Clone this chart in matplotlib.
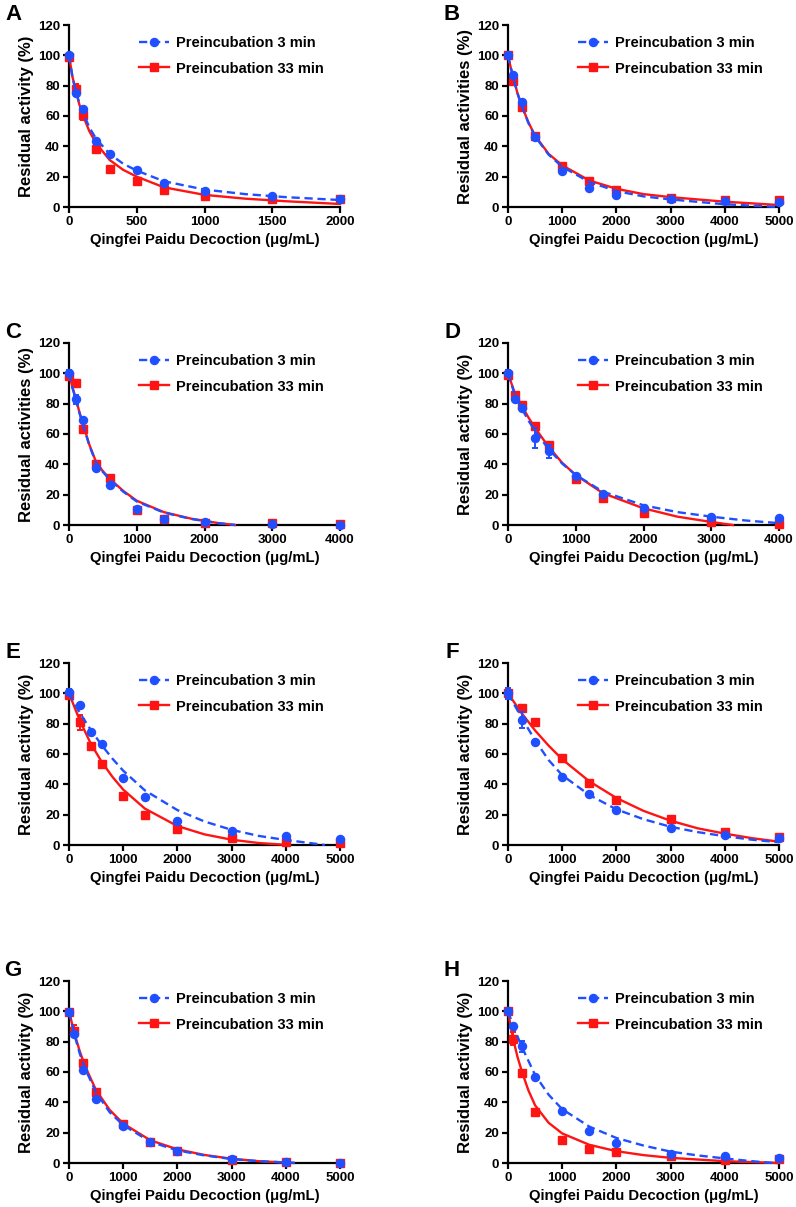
import matplotlib
matplotlib.use("Agg")
import matplotlib.pyplot as plt
from matplotlib.lines import Line2D

plt.rcParams['font.family'] = ['Liberation Sans', 'DejaVu Sans']
plt.rcParams['font.weight'] = 'bold'

BLUE = '#1f4fff'
RED = '#ff1414'

# ---- Panel A ----
A_conc = [0, 50, 100, 200, 300, 500, 700, 1000, 1500, 2000]
A_3min = [100, 75, 64.5, 43.5, 35, 24.5, 16, 10.5, 7.5, 5.5]
A_3min_sd = [1.5, 1.5, 1.5, 1, 1, 1, 0.8, 0.8, 0.5, 0.5]
A_33min = [99, 78, 60.5, 38.5, 25, 17, 11, 7.5, 5, 5]
A_33min_sd = [1.5, 3, 3, 2.5, 1, 1, 1, 0.8, 0.5, 0.5]
A_fit_x = [0, 25, 50, 75, 100, 150, 200, 300, 400, 500, 700, 1000, 1300, 1600, 2000]
A_fit_3min = [100, 86, 76, 69, 63, 52.5, 45, 35, 28.5, 24, 17, 11.5, 8.5, 6.5, 4.6]
A_fit_33min = [100, 86, 77, 68, 61, 50, 42, 31, 24.5, 20, 13, 8, 5.5, 3.8, 2.0]

# ---- Panel B ----
B_conc = [0, 100, 250, 500, 1000, 1500, 2000, 3000, 4000, 5000]
B_3min = [100.5, 87, 69.5, 46, 23.5, 12.5, 8, 5, 4, 3]
B_3min_sd = [1, 1, 1, 1, 1, 1, 1, 0.5, 0.5, 0.5]
B_33min = [100.5, 83, 66, 46.5, 27, 17, 11, 6, 4.5, 4.5]
B_33min_sd = [1, 1, 1, 1, 1, 1, 1, 0.5, 0.5, 0.5]
B_fit_x = [0, 50, 100, 175, 250, 375, 500, 750, 1000, 1500, 2000, 2500, 3000, 4000, 5000]
B_fit_3min = [100, 92, 85, 75, 67, 55.5, 46.5, 34.5, 26.5, 16.5, 10.5, 7, 5, 1.8, 0]
B_fit_33min = [100, 92, 85, 75, 67, 56, 47, 35, 27.5, 17.5, 12, 8.5, 6.5, 3.5, 1.3]

# ---- Panel C ----
C_conc = [0, 100, 200, 400, 600, 1000, 1400, 2000, 3000, 4000]
C_3min = [100, 83, 69.5, 37.5, 26.5, 10.5, 3.7, 2.2, 0.4, 0]
C_3min_sd = [2, 3, 1, 1, 1, 1, 0.5, 0.5, 0.3, 0.3]
C_33min = [98.5, 93.5, 63.5, 40, 31, 9.7, 3.7, 1, 1, 0.5]
C_33min_sd = [1, 1, 1, 1, 1, 1, 0.5, 0.5, 0.3, 0.3]
C_fit_x = [0, 50, 100, 150, 200, 300, 400, 500, 600, 800, 1000, 1400, 1800, 2200, 2450]
C_fit_3min = [100, 90.5, 83, 74.5, 67, 52.5, 41, 35, 30, 22, 15.5, 8.2, 4, 1.2, 0]
C_fit_33min = [100, 91, 83.5, 75, 67.5, 53, 41.5, 35.5, 30.5, 22.5, 16, 8.5, 4.2, 1.3, 0]

# ---- Panel D ----
D_conc = [0, 100, 200, 400, 600, 1000, 1400, 2000, 3000, 4000]
D_3min = [100, 83, 77, 57.5, 48.5, 32.5, 20.5, 11, 5, 4.5]
D_3min_sd = [2, 1, 1, 6.5, 4, 1, 1, 1, 0.5, 0.5]
D_33min = [99, 86, 79, 65, 52.5, 30.5, 18, 8, 1.8, 0.5]
D_33min_sd = [2, 1.5, 1, 1.5, 2, 1, 1, 1, 0.5, 0.3]
D_fit_x_3min = [0, 100, 200, 300, 400, 600, 800, 1000, 1400, 2000, 2500, 3000, 3500, 4000]
D_fit_3min = [100, 86, 77, 69, 62, 50, 40.5, 33, 22, 13, 8.5, 5.5, 3, 1.2]
D_fit_x_33min = [0, 100, 200, 300, 400, 600, 800, 1000, 1400, 2000, 2500, 3000, 3320]
D_fit_33min = [100, 87, 79, 71, 64, 51.5, 41, 33, 21, 11, 5.5, 2, 0]

# ---- Panel E ----
E_conc = [0, 200, 400, 600, 1000, 1400, 2000, 3000, 4000, 5000]
E_3min = [101, 92.5, 74.5, 66.5, 44, 31.5, 15.5, 9, 6, 4]
E_3min_sd = [2, 1, 1, 1, 1, 1, 1, 1, 0.5, 0.5]
E_33min = [99, 81, 65.5, 53.5, 32.5, 19.5, 10.5, 4.5, 2, 1]
E_33min_sd = [1.5, 5, 1, 1, 1, 1, 1, 1, 0.5, 0.5]
E_fit_x_3min = [0, 200, 400, 600, 800, 1000, 1400, 2000, 2500, 3000, 3500, 4000, 4400, 4720]
E_fit_3min = [100, 87, 76, 66, 57, 49, 36, 23, 15.5, 10, 6, 3.3, 1.5, 0]
E_fit_x_33min = [0, 200, 400, 600, 800, 1000, 1400, 2000, 2500, 3000, 3500, 4050]
E_fit_33min = [100, 82, 67, 55, 45, 36.5, 24, 12.5, 7, 3.5, 1.3, 0]

# ---- Panel F ----
F_conc = [0, 250, 500, 1000, 1500, 2000, 3000, 4000, 5000]
F_3min = [100, 82.5, 68, 45, 33.5, 23, 11, 6.5, 4.5]
F_3min_sd = [3.5, 5.5, 1, 1, 1, 1, 1, 0.5, 0.5]
F_33min = [100, 90.5, 81, 57.5, 41, 29.5, 17, 8.5, 5.5]
F_33min_sd = [1.5, 1, 1, 1, 1, 1, 2, 0.5, 0.5]
F_fit_x = [0, 250, 500, 750, 1000, 1500, 2000, 2500, 3000, 3500, 4000, 4500, 5000]
F_fit_3min = [100, 84, 69, 56, 46, 33, 23.5, 17, 12, 8.5, 5.8, 3.5, 1.8]
F_fit_33min = [100, 87, 75.5, 65.5, 56.5, 42, 31, 22.5, 16, 11, 7.5, 4.5, 2.2]

# ---- Panel G ----
G_conc = [0, 100, 250, 500, 1000, 1500, 2000, 3000, 4000, 5000]
G_3min = [99.5, 85, 61.5, 42.5, 24.5, 14, 8, 2.5, 0.5, 0.3]
G_3min_sd = [1, 1, 1, 1, 1, 1, 1, 0.5, 0.3, 0.3]
G_33min = [99.5, 87, 66, 46.5, 25.5, 14, 8, 2.2, 0.5, 0]
G_33min_sd = [1, 4, 1, 1, 1, 1, 1, 0.5, 0.3, 0.3]
G_fit_x_3min = [0, 100, 200, 300, 500, 750, 1000, 1500, 2000, 2500, 3000, 3500, 4250]
G_fit_3min = [100, 84.5, 72, 62, 46.5, 33.5, 25, 14, 8.3, 5, 2.6, 1.2, 0]
G_fit_x_33min = [0, 100, 200, 300, 500, 750, 1000, 1500, 2000, 2500, 3000, 3500, 4140]
G_fit_33min = [100, 85.5, 73.5, 63.5, 48, 35, 26, 15, 9, 5.3, 2.8, 1.2, 0]

# ---- Panel H ----
H_conc = [0, 100, 250, 500, 1000, 1500, 2000, 3000, 4000, 5000]
H_3min = [100, 90.5, 77, 57, 34.5, 21, 13, 6.2, 4.5, 3]
H_3min_sd = [1, 1, 3.5, 1, 1, 1, 1, 1, 0.5, 0.5]
H_33min = [100, 82, 59.5, 33.5, 15, 9.5, 7, 4.5, 2, 2.5]
H_33min_sd = [1, 4.5, 1, 1, 1, 1, 1, 0.5, 0.5, 0.5]
H_fit_x_3min = [0, 100, 250, 500, 750, 1000, 1500, 2000, 2500, 3000, 3500, 4000, 4500, 4900]
H_fit_3min = [100, 90, 77, 58, 45, 35.5, 24, 16.5, 11.5, 7.5, 5, 3, 1.2, 0]
H_fit_x_33min = [0, 50, 100, 175, 250, 375, 500, 750, 1000, 1500, 2000, 2500, 3000, 4000, 5000]
H_fit_33min = [100, 90, 81, 70, 61, 48, 38, 26.5, 19.5, 12, 7.8, 5.2, 3.4, 1.2, 0]

x_label = 'Qingfei Paidu Decoction (μg/mL)'
legend_labels = ['Preincubation 3 min', 'Preincubation 33 min']

panels = [
    ('A', 'Residual activity (%)', 2000, 500, A_conc, A_3min, A_3min_sd, A_33min, A_33min_sd,
     A_fit_x, A_fit_3min, A_fit_x, A_fit_33min),
    ('B', 'Residual activities (%)', 5000, 1000, B_conc, B_3min, B_3min_sd, B_33min, B_33min_sd,
     B_fit_x, B_fit_3min, B_fit_x, B_fit_33min),
    ('C', 'Residual activities (%)', 4000, 1000, C_conc, C_3min, C_3min_sd, C_33min, C_33min_sd,
     C_fit_x, C_fit_3min, C_fit_x, C_fit_33min),
    ('D', 'Residual activity (%)', 4000, 1000, D_conc, D_3min, D_3min_sd, D_33min, D_33min_sd,
     D_fit_x_3min, D_fit_3min, D_fit_x_33min, D_fit_33min),
    ('E', 'Residual activity (%)', 5000, 1000, E_conc, E_3min, E_3min_sd, E_33min, E_33min_sd,
     E_fit_x_3min, E_fit_3min, E_fit_x_33min, E_fit_33min),
    ('F', 'Residual activity (%)', 5000, 1000, F_conc, F_3min, F_3min_sd, F_33min, F_33min_sd,
     F_fit_x, F_fit_3min, F_fit_x, F_fit_33min),
    ('G', 'Residual activity (%)', 5000, 1000, G_conc, G_3min, G_3min_sd, G_33min, G_33min_sd,
     G_fit_x_3min, G_fit_3min, G_fit_x_33min, G_fit_33min),
    ('H', 'Residual activity (%)', 5000, 1000, H_conc, H_3min, H_3min_sd, H_33min, H_33min_sd,
     H_fit_x_3min, H_fit_3min, H_fit_x_33min, H_fit_33min),
]

W, H = 796, 1207
fig = plt.figure(figsize=(W / 100, H / 100), dpi=100)

col_left = [69, 508]
row_bottom = [207, 525, 845, 1163]
ax_w, ax_h = 271, 182

for i, p in enumerate(panels):
    (letter, ylab, xmax, xstep, conc, y3, sd3, y33, sd33,
     fx3, fy3, fx33, fy33) = p
    col, row = i % 2, i // 2
    left = col_left[col]
    bottom = row_bottom[row]
    ax = fig.add_axes([left / W, 1 - bottom / H, ax_w / W, ax_h / H])

    # red (33 min) first, blue on top
    ax.plot(fx33, fy33, color=RED, lw=1.7, zorder=3, clip_on=False)
    ax.errorbar(conc, y33, yerr=sd33, fmt='s', color=RED, ms=5.2, elinewidth=1.4,
                capsize=2.5, capthick=1.4, zorder=4, clip_on=False)
    ax.plot(fx3, fy3, color=BLUE, lw=1.7, ls=(0, (3.5, 2)), zorder=5, clip_on=False)
    ax.errorbar(conc, y3, yerr=sd3, fmt='o', color=BLUE, ms=5.8, elinewidth=1.4,
                capsize=2.5, capthick=1.4, zorder=6, clip_on=False)

    ax.set_xlim(0, xmax)
    ax.set_ylim(0, 120)
    ax.set_xticks(range(0, xmax + 1, xstep))
    ax.set_yticks(range(0, 121, 20))
    for s in ['top', 'right']:
        ax.spines[s].set_visible(False)
    for s in ['left', 'bottom']:
        ax.spines[s].set_linewidth(1.6)
    ax.tick_params(direction='out', length=4, width=1.6, labelsize=9.5, pad=2.5)
    for lab in ax.get_xticklabels() + ax.get_yticklabels():
        lab.set_fontweight('bold')
    ax.set_xlabel(x_label, fontsize=10.7, fontweight='bold', labelpad=3.5)
    ax.set_ylabel(ylab, fontsize=12, fontweight='bold', labelpad=3)

    handles = [
        Line2D([], [], color=BLUE, lw=1.7, ls=(0, (3.5, 2)), marker='o', ms=5.8),
        Line2D([], [], color=RED, lw=1.7, marker='s', ms=5.2),
    ]
    ax.legend(handles, legend_labels, loc='upper left', bbox_to_anchor=(0.26, 0.94),
              frameon=False, handlelength=2.0, handletextpad=0.5,
              labelspacing=0.8, borderpad=0, borderaxespad=0,
              prop={'weight': 'bold', 'size': 10.5})

    lx = left - 56
    ly = bottom - ax_h - 11
    fig.text(lx / W, 1 - ly / H, letter, fontsize=16, fontweight='bold',
             ha='center', va='center')

fig.savefig('out.png', dpi=100)
